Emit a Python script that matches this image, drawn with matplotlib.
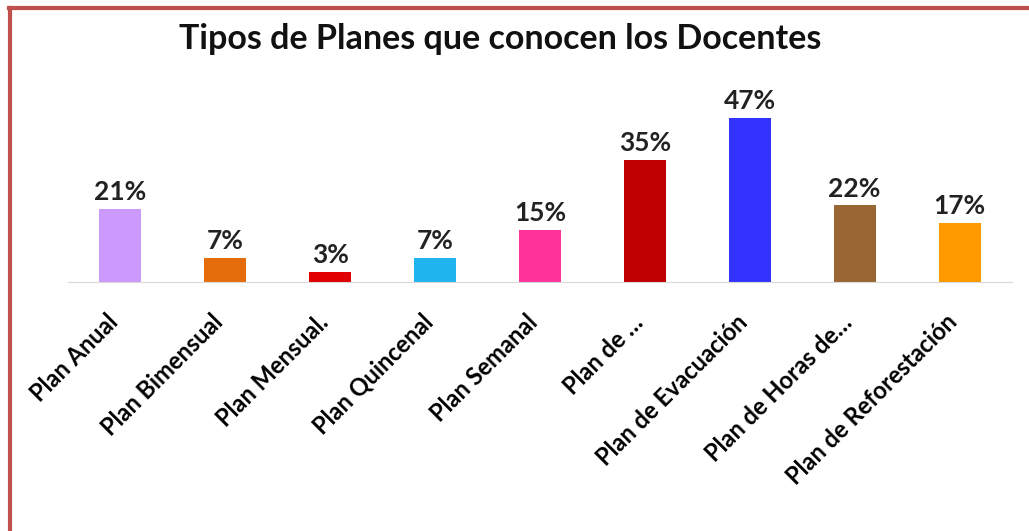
import matplotlib.pyplot as plt
from matplotlib.lines import Line2D
from matplotlib.transforms import ScaledTranslation

plt.rcParams['font.family'] = ['Lato', 'DejaVu Sans']

planes = ['Plan Anual', 'Plan Bimensual', 'Plan Mensual.', 'Plan Quincenal',
          'Plan Semanal', 'Plan de …', 'Plan de Evacuación',
          'Plan de Horas de…', 'Plan de Reforestación']
porcentajes = [21, 7, 3, 7, 15, 35, 47, 22, 17]
colores = ['#CC99FF', '#E46C0A', '#E00000', '#1FB4EE', '#FF3399',
           '#C00000', '#3333FF', '#996633', '#FF9900']

fig = plt.figure(figsize=(10.29, 5.31), dpi=100)
ax = fig.add_axes([68 / 1029, 249 / 531, 944 / 1029, 182 / 531])

x = range(len(planes))
bars = ax.bar(x, porcentajes, width=0.4, color=colores)
for b, v in zip(bars, porcentajes):
    ax.text(b.get_x() + b.get_width() / 2, v + 1.2, '{}%'.format(v),
            ha='center', va='bottom', fontsize=19, fontweight='bold', color='#222222')

ax.set_xlim(-0.5, len(planes) - 0.5)
ax.set_ylim(0, 52)
ax.set_yticks([])
for s in ['top', 'right', 'left']:
    ax.spines[s].set_visible(False)
ax.spines['bottom'].set_color('#D9D9D9')
ax.set_xticks(list(x))
ax.set_xticklabels(planes, rotation=45, ha='right', va='top', rotation_mode='anchor',
                   fontsize=17, fontweight='bold')
ax.tick_params(axis='x', length=0, pad=6)
# mover las etiquetas un poco hacia abajo e izquierda
offset = ScaledTranslation(-14 / 100, -20 / 100, fig.dpi_scale_trans)
for lab in ax.get_xticklabels():
    lab.set_transform(lab.get_transform() + offset)

fig.text(500 / 1029, 1 - 39 / 531, 'Tipos de Planes que conocen los Docentes',
         ha='center', va='center', fontsize=24.5, fontweight='bold', color='#111111')

# marco rojo (solo arriba e izquierda)
fig.add_artist(Line2D([9 / 1029, 1], [1 - 7.5 / 531, 1 - 7.5 / 531],
                      transform=fig.transFigure, color='#C0504D', lw=3))
fig.add_artist(Line2D([9.5 / 1029, 9.5 / 1029], [0, 1 - 7.5 / 531],
                      transform=fig.transFigure, color='#C0504D', lw=3))

fig.savefig('out.png', dpi=100)
